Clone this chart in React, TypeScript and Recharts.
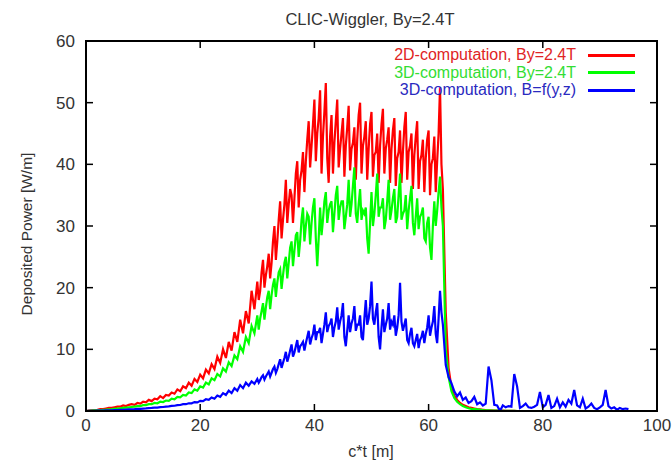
import React from 'react';
import { LineChart, Line, XAxis, YAxis, ReferenceLine } from 'recharts';

const ct = [
  0, 0.5, 1, 1.5, 2, 2.5, 3, 3.5, 4, 4.5, 5, 5.5, 6, 6.5, 7, 7.5, 8, 8.5, 9, 9.5,
  10, 10.5, 11, 11.5, 12, 12.5, 13, 13.5, 14, 14.5, 15, 15.5, 16, 16.5, 17, 17.5, 18, 18.5, 19, 19.5,
  20, 20.5, 21, 21.5, 22, 22.5, 23, 23.5, 24, 24.5, 25, 25.5, 26, 26.5, 27, 27.5, 28, 28.5, 29, 29.5,
  30, 30.25, 30.5, 30.75, 31, 31.25, 31.5, 31.75, 32, 32.25, 32.5, 32.75, 33, 33.25, 33.5, 33.75,
  34, 34.25, 34.5, 34.75, 35, 35.25, 35.5, 35.75, 36, 36.25, 36.5, 36.75, 37, 37.25, 37.5, 37.75,
  38, 38.25, 38.5, 38.75, 39, 39.25, 39.5, 39.75, 40, 40.25, 40.5, 40.75, 41, 41.25, 41.5, 41.75,
  42, 42.25, 42.5, 42.75, 43, 43.25, 43.5, 43.75, 44, 44.25, 44.5, 44.75, 45, 45.25, 45.5, 45.75,
  46, 46.25, 46.5, 46.75, 47, 47.25, 47.5, 47.75, 48, 48.25, 48.5, 48.75, 49, 49.25, 49.5, 49.75,
  50, 50.25, 50.5, 50.75, 51, 51.25, 51.5, 51.75, 52, 52.25, 52.5, 52.75, 53, 53.25, 53.5, 53.75,
  54, 54.25, 54.5, 54.75, 55, 55.25, 55.5, 55.75, 56, 56.25, 56.5, 56.75, 57, 57.25, 57.5, 57.75,
  58, 58.25, 58.5, 58.75, 59, 59.25, 59.5, 59.75, 60, 60.25, 60.5, 60.75, 61, 61.25, 61.5, 61.75,
  62, 62.25, 62.5,
  63, 63.5, 64, 64.5, 65, 65.5, 66, 66.5, 67, 67.5, 68, 68.5, 69, 69.5,
  70, 70.5, 71, 71.5, 72, 72.5, 73, 73.5, 74, 74.5, 75, 75.5, 76, 76.5, 77, 77.5, 78, 78.5, 79, 79.5,
  80, 80.5, 81, 81.5, 82, 82.5, 83, 83.5, 84, 84.5, 85, 85.5, 86, 86.5, 87, 87.5, 88, 88.5, 89, 89.5,
  90, 90.5, 91, 91.5, 92, 92.5, 93, 93.5, 94, 94.5, 95, 95.5, 96, 96.5, 97, 97.5, 98, 98.5, 99, 99.5,
  100,
];

const red2D = [
  0, 0.05, 0.1, 0.15, 0.2, 0.3, 0.3, 0.4, 0.5, 0.5, 0.6, 0.7, 0.7, 0.9, 0.8, 1.0, 1.1, 1.0, 1.3, 1.2, 1.5,
  1.4, 1.8, 1.6, 2.0, 1.9, 2.4, 2.1, 2.6, 2.5, 3.0, 2.8, 3.5, 3.2, 4.0, 3.7, 4.6, 4.1, 5.2, 4.7, 5.9,
  5.3, 6.7, 6.1, 7.6, 6.8, 8.8, 7.8, 10.0, 8.6, 11.2, 9.8, 12.8, 11.2, 14.8, 12.6, 16.2, 14.2, 19.5, 16.5,
  21.0, 18.0, 19.5, 22.5, 24.5, 20.0, 22.0, 23.5, 25.5, 21.5, 24.0, 27.5, 30.0, 24.5, 27.5, 31.0,
  34.0, 28.0, 31.0, 33.5, 37.5, 30.5, 33.5, 36.0, 35.0, 30.5, 34.5, 38.5, 40.5, 33.0, 37.5, 39.0,
  42.0, 35.5, 40.5, 44.0, 47.0, 39.5, 43.0, 46.5, 50.5, 40.5, 45.0, 47.5, 52.0, 38.5, 44.5, 48.5,
  53.2, 41.0, 37.0, 44.5, 48.0, 38.5, 43.5, 47.0, 50.5, 39.5, 42.5, 45.0, 47.5, 38.0, 43.0, 46.0,
  49.5, 39.0, 42.5, 43.5, 46.0, 37.5, 44.0, 48.0, 50.0, 38.5, 43.0, 44.5, 47.0, 37.5, 42.5, 46.5,
  48.5, 38.0, 41.5, 42.0, 45.0, 37.0, 43.0, 46.5, 49.0, 38.5, 42.5, 44.0, 46.0, 37.0, 42.5, 45.5,
  47.5, 36.5, 41.0, 42.0, 45.5, 37.0, 42.0, 46.0, 48.5, 37.5, 42.0, 43.0, 45.0, 36.0, 41.5, 44.5,
  47.0, 36.0, 40.5, 41.5, 44.0, 35.5, 41.0, 44.0, 45.5, 35.0, 40.0, 41.0, 44.5, 35.5, 40.5, 45.0,
  52.5, 40.0, 36.0,
  16.0, 7.0, 3.8, 2.5, 1.8, 1.3, 1.0, 0.8, 0.6, 0.5, 0.4, 0.3, 0.25, 0.2,
  0.15, 0.12, 0.1, 0.08, 0.07, 0.06, 0.05, 0.04, 0.03, 0.02, 0.02,
  0, 0, 0, 0, 0, 0, 0, 0, 0, 0, 0, 0, 0, 0, 0, 0, 0, 0, 0, 0, 0, 0, 0, 0, 0,
  0, 0, 0, 0, 0, 0, 0, 0, 0, 0, 0, 0, 0, 0, 0, 0, 0, 0, 0, 0, 0, 0, 0, 0, 0,
];

const green3D = [
  0, 0.03, 0.06, 0.1, 0.12, 0.15, 0.2, 0.22, 0.28, 0.3, 0.35, 0.4, 0.45, 0.5, 0.55, 0.6, 0.65, 0.7, 0.8, 0.8, 0.95,
  0.95, 1.1, 1.1, 1.3, 1.25, 1.5, 1.45, 1.7, 1.65, 2.0, 1.9, 2.3, 2.2, 2.6, 2.5, 3.0, 2.9, 3.5, 3.3, 4.0,
  3.8, 4.6, 4.3, 5.3, 5.0, 6.0, 5.6, 6.9, 6.4, 7.9, 7.3, 9.0, 8.4, 10.5, 9.6, 12.0, 11.0, 13.8, 12.6,
  15.5, 13.2, 15.0, 16.2, 17.5, 14.8, 16.8, 18.5, 19.5, 16.5, 18.8, 20.5, 21.5, 18.5, 20.8, 22.5,
  23.0, 19.8, 22.0, 24.0, 25.0, 21.5, 24.0, 26.5, 27.5, 23.5, 26.0, 28.5, 29.0, 25.0, 27.5, 31.0,
  33.0, 27.5, 30.0, 32.0, 31.5, 27.0, 30.5, 33.0, 34.5, 28.0, 23.5, 28.0, 33.0, 28.5, 31.0, 34.0,
  35.5, 30.5, 32.5, 33.5, 34.0, 29.0, 32.0, 35.0, 36.5, 31.0, 33.0, 34.0, 34.0, 29.5, 31.5, 33.5,
  37.5, 31.5, 33.5, 36.5, 39.5, 32.0, 30.5, 33.5, 36.0, 31.0, 32.5, 32.0, 33.0, 28.0, 25.5, 30.5,
  35.5, 30.0, 32.0, 35.0, 38.5, 31.5, 33.0, 33.0, 34.5, 29.5, 31.0, 34.0, 37.5, 31.0, 32.5, 34.5,
  36.0, 30.5, 31.5, 35.0, 38.5, 31.0, 32.0, 32.5, 35.0, 29.5, 32.5, 34.5, 36.5, 30.5, 28.5, 31.5,
  34.5, 29.5, 31.5, 32.0, 33.0, 28.0, 27.5, 30.5, 31.5, 26.5, 24.5, 30.0, 34.0, 30.0, 32.5, 35.5,
  38.0, 33.0, 30.0,
  10.0, 5.5, 3.2, 2.1, 1.5, 1.1, 0.8, 0.6, 0.45, 0.35, 0.3, 0.25, 0.2, 0.15,
  0.12, 0.1, 0.08, 0.06, 0.05, 0.04, 0.03, 0.02, 0.02, 0.01, 0.01,
  0, 0, 0, 0, 0, 0, 0, 0, 0, 0, 0, 0, 0, 0, 0, 0, 0, 0, 0, 0, 0, 0, 0, 0, 0,
  0, 0, 0, 0, 0, 0, 0, 0, 0, 0, 0, 0, 0, 0, 0, 0, 0, 0, 0, 0, 0, 0, 0, 0, 0,
];

const blueByz = [
  0, 0.01, 0.02, 0.03, 0.05, 0.06, 0.08, 0.09, 0.1, 0.12, 0.14, 0.16, 0.18, 0.2, 0.22, 0.25, 0.28, 0.3, 0.34, 0.36, 0.4,
  0.42, 0.47, 0.5, 0.55, 0.56, 0.63, 0.65, 0.72, 0.74, 0.82, 0.85, 0.95, 0.97, 1.1, 1.1, 1.25, 1.25, 1.45, 1.4, 1.65,
  1.6, 1.9, 1.8, 2.2, 2.0, 2.5, 2.3, 2.9, 2.6, 3.3, 2.9, 3.7, 3.3, 4.2, 3.7, 4.6, 4.1, 4.8, 4.4,
  5.2, 4.6, 5.0, 5.5, 5.8, 5.1, 5.6, 6.0, 6.4, 5.6, 6.2, 6.8, 7.2, 6.2, 6.8, 7.6,
  8.4, 7.0, 7.8, 8.6, 9.6, 8.0, 8.8, 9.8, 10.8, 8.8, 9.5, 10.5, 11.5, 9.5, 10.5, 10.8,
  11.2, 9.8, 11.0, 12.0, 13.0, 10.8, 11.8, 12.5, 14.0, 11.5, 12.8, 12.8, 13.5, 11.0, 12.5, 14.0,
  16.0, 12.8, 13.8, 14.2, 15.0, 12.0, 13.5, 14.5, 16.8, 13.2, 14.5, 15.5, 17.5, 12.0, 10.5, 13.0,
  15.5, 12.8, 14.2, 15.0, 17.0, 13.0, 14.0, 14.0, 15.5, 12.0, 11.5, 15.0, 18.0, 14.0, 15.0, 17.0,
  21.0, 15.0, 14.0, 16.0, 17.5, 12.0, 10.0, 13.5, 16.5, 12.8, 14.0, 15.0, 17.5, 13.2, 14.5, 14.0,
  15.5, 12.2, 13.5, 15.5, 20.8, 14.5, 13.0, 14.0, 15.0, 11.5, 11.0, 12.5, 13.5, 11.0, 10.5, 11.5,
  12.5, 10.2, 11.5, 12.0, 13.0, 11.0, 12.5, 13.5, 15.5, 12.2, 13.5, 14.5, 17.0, 12.5, 11.0, 15.0,
  19.5, 16.0, 14.0,
  7.5, 5.5, 4.5, 3.2, 2.4, 3.0, 1.8, 2.2, 1.3, 1.6, 2.3, 1.1, 1.4, 0.9,
  1.2, 7.2, 5.0, 1.0, 0.9, 0.0, 0.9, 0.6, 0.8, 0.7,
  6.0, 4.0, 0.5, 0.8, 1.2, 0.6, 0.5, 0.7, 1.0, 3.1,
  0.6, 1.0, 2.6, 0.5, 0.8, 2.0, 0.6, 1.4, 0.7, 1.8,
  1.2, 3.4, 0.9, 0.6, 2.0, 0.4, 0.7, 1.2, 0.5, 0.3,
  0.6, 1.0, 3.4, 0.8, 0.4, 0.6, 0.2, 0.5, 0.3, 0.4,
  0.3, null, null, null, null, null, null, null, null, null, null,
];

const xTicks = [0, 20, 40, 60, 80, 100];
const yTicks = [0, 10, 20, 30, 40, 50, 60];
const X_MAX = 100;
const Y_MAX = 60;

const legendItems = [
  { label: '2D-computation, By=2.4T', line: '#ff0000', text: '#e02424' },
  { label: '3D-computation, By=2.4T', line: '#00ff00', text: '#33dd33' },
  { label: '3D-computation, B=f(y,z)', line: '#0000ff', text: '#2a2ac0' },
];

const rows = ct.map((x, i) => ({ ct: x, red: red2D[i], green: green3D[i], blue: blueByz[i] }));

const TEXT = '#333333';
const FONT = '"Liberation Sans", Arial, Helvetica, sans-serif';
const TICK_LEN = 7;
const CHART_W = 672;
const CHART_H = 467;
const MARGIN = { top: 41, right: 15, bottom: 0, left: 0 };
const Y_AXIS_W = 86;
const X_AXIS_H = 56;
const PLOT_TOP = MARGIN.top;
const PLOT_RIGHT = CHART_W - MARGIN.right;
const PLOT_LEFT = MARGIN.left + Y_AXIS_W;
const PLOT_BOTTOM = CHART_H - MARGIN.bottom - X_AXIS_H;
const TICK_MARGIN_X = 7;
const TICK_MARGIN_Y = 11;
const LINE_W = 2.2;

const BottomTick = (props: any) => {
  const { x, y, payload } = props;
  const axisY = y - TICK_MARGIN_X;
  return (
    <g>
      <line x1={x} x2={x} y1={axisY} y2={axisY - TICK_LEN} stroke="#000" strokeWidth={1.5} />
      <line x1={x} x2={x} y1={PLOT_TOP} y2={PLOT_TOP + TICK_LEN} stroke="#000" strokeWidth={1.5} />
      <text x={x} y={y} dy={13} textAnchor="middle" fill={TEXT} fontSize={17} fontFamily={FONT}>
        {payload.value}
      </text>
    </g>
  );
};

const LeftTick = (props: any) => {
  const { x, y, payload } = props;
  const axisX = x + TICK_MARGIN_Y;
  return (
    <g>
      <line x1={axisX} x2={axisX + TICK_LEN} y1={y} y2={y} stroke="#000" strokeWidth={1.5} />
      <line x1={PLOT_RIGHT} x2={PLOT_RIGHT - TICK_LEN} y1={y} y2={y} stroke="#000" strokeWidth={1.5} />
      <text x={x} y={y} dy={6} textAnchor="end" fill={TEXT} fontSize={17} fontFamily={FONT}>
        {payload.value}
      </text>
    </g>
  );
};

const axisLineStyle = { stroke: '#000', strokeWidth: 1.5 };

export default function App() {
  return (
    <div style={{ position: 'absolute', left: 0, top: 0, width: CHART_W, height: CHART_H, background: '#fff', fontFamily: FONT }}>
      <LineChart width={CHART_W} height={CHART_H} data={rows} margin={MARGIN}>
        <XAxis
          xAxisId="bottom"
          dataKey="ct"
          type="number"
          domain={[0, X_MAX]}
          allowDataOverflow
          ticks={xTicks}
          interval={0}
          height={X_AXIS_H}
          tickLine={false}
          tickSize={0}
          tickMargin={TICK_MARGIN_X}
          axisLine={axisLineStyle}
          tick={<BottomTick />}
        />
        <YAxis
          yAxisId="left"
          type="number"
          domain={[0, Y_MAX]}
          allowDataOverflow
          ticks={yTicks}
          interval={0}
          width={Y_AXIS_W}
          tickLine={false}
          tickSize={0}
          tickMargin={TICK_MARGIN_Y}
          axisLine={axisLineStyle}
          tick={<LeftTick />}
        />
        <ReferenceLine xAxisId="bottom" yAxisId="left" y={Y_MAX} stroke="#000" strokeWidth={1.5} />
        <ReferenceLine xAxisId="bottom" yAxisId="left" x={X_MAX} stroke="#000" strokeWidth={1.5} />
        <Line xAxisId="bottom" yAxisId="left" type="linear" dataKey="red" stroke="#ff0000" strokeWidth={LINE_W} dot={false} isAnimationActive={false} />
        <Line xAxisId="bottom" yAxisId="left" type="linear" dataKey="green" stroke="#00ff00" strokeWidth={LINE_W} dot={false} isAnimationActive={false} />
        <Line xAxisId="bottom" yAxisId="left" type="linear" dataKey="blue" stroke="#0000ff" strokeWidth={LINE_W} dot={false} isAnimationActive={false} connectNulls={false} />
      </LineChart>

      <div
        style={{
          position: 'absolute',
          left: PLOT_LEFT - 1,
          top: PLOT_TOP - 1,
          width: PLOT_RIGHT - PLOT_LEFT - 2,
          height: PLOT_BOTTOM - PLOT_TOP - 2,
          border: '2px solid #000',
          pointerEvents: 'none',
        }}
      />

      <div style={{ position: 'absolute', left: 170, width: 400, top: 11, textAlign: 'center', fontSize: 16.5, lineHeight: 1, color: TEXT, whiteSpace: 'nowrap' }}>
        CLIC-Wiggler, By=2.4T
      </div>

      <div style={{ position: 'absolute', left: 271, width: 200, top: 444, textAlign: 'center', fontSize: 16, lineHeight: 1, color: TEXT, whiteSpace: 'nowrap' }}>
        c*t [m]
      </div>

      <div style={{ position: 'absolute', left: 27, top: 234, transform: 'translate(-50%, -50%) rotate(-90deg)', fontSize: 15.5, lineHeight: 1, color: TEXT, whiteSpace: 'nowrap' }}>
        Deposited Power [W/m]
      </div>

      {legendItems.map((item, i) => (
        <div key={item.label} style={{ position: 'absolute', left: 0, top: 55 + i * 17.5 - 9, width: CHART_W, height: 18 }}>
          <div style={{ position: 'absolute', right: CHART_W - 576, top: 0, fontSize: 16, lineHeight: '18px', color: item.text, whiteSpace: 'nowrap' }}>
            {item.label}
          </div>
          <div style={{ position: 'absolute', left: 588, width: 47, top: 7.5, height: 3, background: item.line }} />
        </div>
      ))}
    </div>
  );
}
